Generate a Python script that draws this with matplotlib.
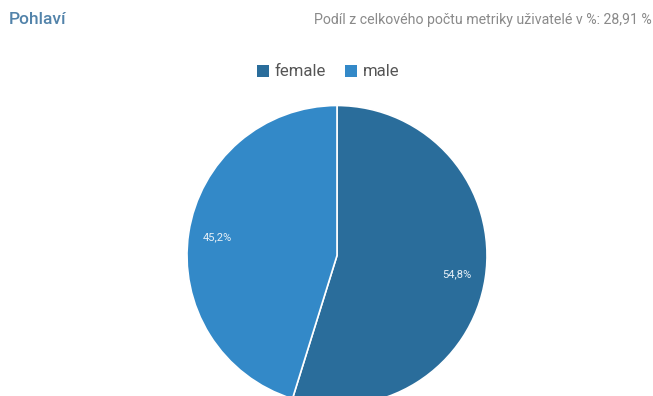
import matplotlib
matplotlib.use("Agg")
import matplotlib.pyplot as plt
from matplotlib.patches import Patch

plt.rcParams['font.family'] = ['Roboto', 'DejaVu Sans']

categories = ["female", "male"]
shares = [54.8, 45.2]
colors = ["#2a6d9b", "#3389c8"]
title = "Pohlaví"
subtitle = "Podíl z celkového počtu metriky uživatelé v %: 28,91 %"

W, H = 653, 396
fig = plt.figure(figsize=(W / 100, H / 100), dpi=100)
ax = fig.add_axes([0, 0, 1, 1])

wedges, texts, autotexts = ax.pie(
    shares,
    colors=colors,
    startangle=90,
    counterclock=False,
    center=(337, H - 255.5),
    radius=150,
    autopct=lambda p: f"{p:.1f}".replace(".", ",") + "%",
    pctdistance=0.81,
    wedgeprops=dict(edgecolor="white", linewidth=1.2),
    textprops=dict(color="#e8f1f8", fontsize=8),
)
# pixel-like data coordinates for the whole canvas
ax.set_xlim(0, W)
ax.set_ylim(0, H)
ax.set_aspect("equal")
ax.axis("off")

fig.text(9 / W, 1 - 19.5 / H, title, color="#5283aa", fontsize=12.5,
         ha="left", va="center", fontweight="medium")
fig.text(652 / W, 1 - 20 / H, subtitle, color="#8a8a8a", fontsize=10.2,
         ha="right", va="center")

handles = [Patch(facecolor=c, edgecolor="none") for c in colors]
fig.legend(handles, categories, loc="center", bbox_to_anchor=(328 / W, 1 - 72 / H),
           ncol=2, frameon=False, fontsize=12, handlelength=0.75, handleheight=0.75,
           handletextpad=0.35, columnspacing=1.1, labelcolor="#555555")

fig.savefig("out.png", dpi=100, facecolor="white")
